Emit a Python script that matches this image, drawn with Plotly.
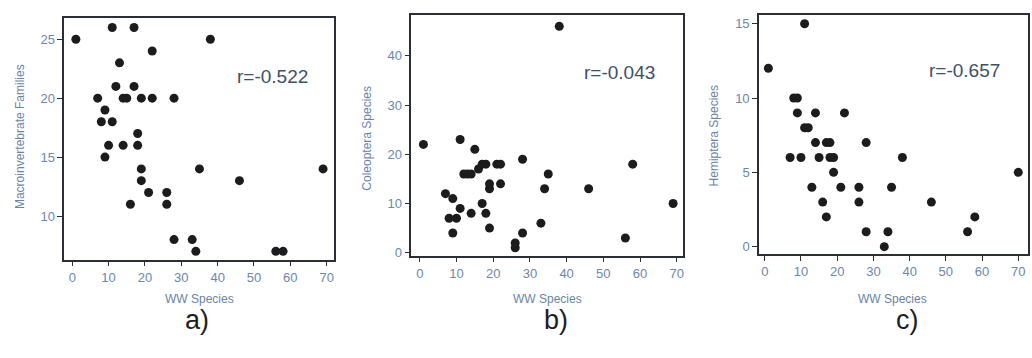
import plotly.graph_objects as go

# Panel a: Macroinvertebrate Families vs WW Species
a_x = [1, 11, 17, 38, 22, 13, 12, 17, 7, 14, 15, 19, 22, 28, 9, 8, 11, 18, 10, 14,
       18, 9, 19, 35, 69, 19, 46, 21, 26, 16, 26, 28, 33, 34, 56, 58]
a_y = [25, 26, 26, 25, 24, 23, 21, 21, 20, 20, 20, 20, 20, 20, 19, 18, 18, 17, 16, 16,
       16, 15, 14, 14, 14, 13, 13, 12, 12, 11, 11, 8, 8, 7, 7, 7]

# Panel b: Coleoptera Species vs WW Species
b_x = [1, 11, 15, 7, 9, 8, 10, 9, 11, 14, 12, 13, 14, 16, 17, 18, 17, 18, 19, 19,
       19, 21, 22, 22, 28, 28, 26, 26, 33, 34, 35, 38, 46, 56, 58, 69]
b_y = [22, 23, 21, 12, 11, 7, 7, 4, 9, 8, 16, 16, 16, 17, 18, 18, 10, 8, 5, 14,
       13, 18, 18, 14, 19, 4, 2, 1, 6, 13, 16, 46, 13, 3, 18, 10]

# Panel c: Hemiptera Species vs WW Species
c_x = [1, 11, 8, 9, 9, 14, 22, 11, 12, 14, 17, 18, 28, 7, 10, 15, 18, 19, 38, 19,
       70, 13, 21, 26, 35, 16, 26, 46, 17, 58, 28, 34, 56, 33]
c_y = [12, 15, 10, 10, 9, 9, 9, 8, 8, 7, 7, 7, 7, 6, 6, 6, 6, 6, 6, 5,
       5, 4, 4, 4, 4, 3, 3, 3, 2, 2, 1, 1, 1, 0]

y_titles = ["Macroinvertebrate Families", "Coleoptera Species", "Hemiptera Species"]
r_texts = ["r=-0.522", "r=-0.043", "r=-0.657"]
panel_labels = ["a)", "b)", "c)"]
x_title = "WW Species"

W, H = 1032, 358
def px(x): return x / W
def py(y): return 1 - y / H

panels = [
    dict(x=a_x, y=a_y, dom=(64.3, 334.3, 18.3, 263.3), xr=[-2.2, 72.0], yr=[6.3, 26.8],
         ytick=[10, 15, 20, 25], rpos=(273, 78), xt=(200, 303), pl=(197, 325), yt=(20, 138)),
    dict(x=b_x, y=b_y, dom=(411.7, 683.3, 15.7, 259.3), xr=[-2.3, 71.6], yr=[-0.6, 48.2],
         ytick=[0, 10, 20, 30, 40], rpos=(620, 74), xt=(548, 303), pl=(557, 325), yt=(367, 140)),
    dict(x=c_x, y=c_y, dom=(759.7, 1028.7, 15, 257.7), xr=[-1.6, 72.6], yr=[-0.5, 15.6],
         ytick=[0, 5, 10, 15], rpos=(965, 72), xt=(893, 303), pl=(908, 325), yt=(715, 138)),
]

tick_color = "#6b87ab"
title_color = "#6a84a6"
line_color = "#2a2e36"

fig = go.Figure()
annotations = []
layout = {}
for i, p in enumerate(panels):
    n = "" if i == 0 else str(i + 1)
    fig.add_trace(go.Scatter(
        x=p["x"], y=p["y"], mode="markers",
        marker=dict(size=9, color="#1c1c1e"),
        xaxis="x" + n, yaxis="y" + n, showlegend=False))
    l, r, t, b = p["dom"]
    common = dict(showline=True, linecolor=line_color, linewidth=1.5, mirror=True,
                  ticks="outside", ticklen=5, tickwidth=1.2, tickcolor=line_color,
                  showgrid=False, zeroline=False,
                  tickfont=dict(family="Arial", size=13, color=tick_color))
    layout["xaxis" + n] = dict(domain=[px(l), px(r)], range=p["xr"], anchor="y" + n,
                               tickvals=[0, 10, 20, 30, 40, 50, 60, 70], **common)
    layout["yaxis" + n] = dict(domain=[py(b), py(t)], range=p["yr"], anchor="x" + n,
                               tickvals=p["ytick"], **common)
    base = dict(xref="paper", yref="paper", showarrow=False,
                xanchor="center", yanchor="middle")
    annotations.append(dict(x=px(p["rpos"][0]), y=py(p["rpos"][1]), text=r_texts[i],
                            font=dict(family="Arial", size=19, color="#3e5068"), **base))
    annotations.append(dict(x=px(p["xt"][0]), y=py(p["xt"][1]), text=x_title,
                            font=dict(family="Arial", size=12, color=title_color), **base))
    annotations.append(dict(x=px(p["pl"][0]), y=py(p["pl"][1]), text=panel_labels[i],
                            font=dict(family="Arial", size=27, color="#1e1e22"), **base))
    annotations.append(dict(x=px(p["yt"][0]), y=py(p["yt"][1]), text=y_titles[i],
                            textangle=-90,
                            font=dict(family="Arial", size=12, color=title_color), **base))

fig.update_layout(width=W, height=H, margin=dict(l=0, r=0, t=0, b=0),
                  paper_bgcolor="white", plot_bgcolor="white",
                  annotations=annotations, **layout)
fig.write_html("out.html", config={"displayModeBar": False},
               post_script="document.body.style.margin='0';document.body.style.overflow='hidden';")
